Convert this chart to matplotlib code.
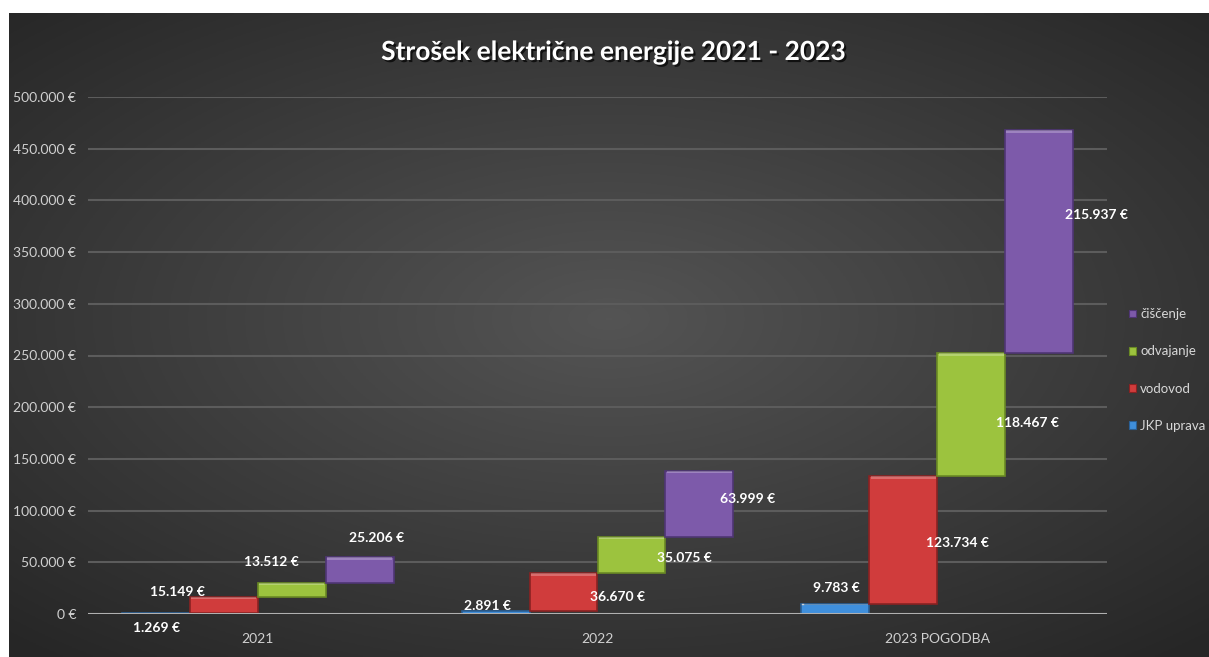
import numpy as np
import matplotlib
matplotlib.use('Agg')
import matplotlib.pyplot as plt
import matplotlib.patheffects as pe
from matplotlib.ticker import FuncFormatter

# data
years = ['2021', '2022', '2023 POGODBA']
series = ['JKP uprava', 'vodovod', 'odvajanje', 'čiščenje']
jkp_uprava = [1269, 2891, 9783]
vodovod = [15149, 36670, 123734]
odvajanje = [13512, 35075, 118467]
ciscenje = [25206, 63999, 215937]
y_ticks = [0, 50000, 100000, 150000, 200000, 250000, 300000, 350000, 400000, 450000, 500000]

colors = ['#3f8fdc', '#d03c3c', '#9cc33e', '#7d5aaa']
edge_colors = ['#2a5f95', '#8a2222', '#6a8a24', '#4f3575']
# label offsets (pixels) from bar centre / bar middle
label_offsets = [
    [(1, -15), (-8, 7), (1, 21)],
    [(-46, 13), (54, -5), (54, -3)],
    [(-20, 28), (53, -3), (56, -8)],
    [(17, 32), (48, 5), (57, 27)],
]

plt.rcParams['font.family'] = ['Lato', 'DejaVu Sans']

W, H = 1209, 657
fig = plt.figure(figsize=(W / 100, H / 100), dpi=100, facecolor='white')

# dark background with radial gradient
bg = fig.add_axes([9 / W, 0, 1 - 9 / W, 1 - 13 / H])
bg.axis('off')
gx, gy = np.meshgrid(np.linspace(-1, 1, 400), np.linspace(-1, 1, 220))
r = np.sqrt((gx * 0.95) ** 2 + ((gy + 0.05) * 1.0) ** 2)
shade = np.clip(0.33 - 0.13 * r, 0.15, 0.33)
bg.imshow(np.dstack([shade, shade, shade]), aspect='auto', extent=[0, 1, 0, 1])

ax = fig.add_axes([88 / W, (H - 614) / H, (1107 - 88) / W, (614 - 97) / H])
ax.set_facecolor('none')

vals = np.array([jkp_uprava, vodovod, odvajanje, ciscenje], dtype=float)
bottoms = np.vstack([np.zeros(3), np.cumsum(vals, axis=0)[:-1]])
x = np.arange(len(years))
width = 0.2
offsets = [-0.3, -0.1, 0.1, 0.3]

for i in range(len(series)):
    xs = x + offsets[i]
    ax.bar(xs, vals[i], width, bottom=bottoms[i], color=colors[i],
           edgecolor=edge_colors[i], linewidth=1.2, label=series[i], zorder=3)
    # bevel highlight at bar top
    hl = np.minimum(vals[i] * 0.12, 2500)
    ax.bar(xs, hl, width * 0.96, bottom=bottoms[i] + vals[i] - hl,
           color='white', alpha=0.25, linewidth=0, zorder=4)
    for j in range(len(years)):
        mid = bottoms[i][j] + vals[i][j] / 2
        txt = '{:,.0f} €'.format(vals[i][j]).replace(',', '.')
        ax.annotate(txt, (xs[j], mid), xytext=label_offsets[i][j],
                    textcoords='offset pixels', ha='center', va='center',
                    color='white', fontsize=10, fontweight='bold', zorder=6)

# leader line for the small 2023 label
j = 2
bx = x[j] + offsets[0] - width / 2
top = vals[0][j]
p0 = ax.transData.transform((bx, top))
pts = np.array([p0 + [2, -2], p0 + [2, 18], p0 + [6, 18]])
pts = ax.transData.inverted().transform(pts)
ax.plot(pts[:, 0], pts[:, 1], color='#d0d0d0', lw=1, zorder=6, clip_on=False)

ax.set_xlim(-0.5, 2.5)
ax.set_ylim(0, 500000)
ax.set_yticks(y_ticks)
ax.yaxis.set_major_formatter(FuncFormatter(
    lambda v, p: '{:,.0f} €'.format(v).replace(',', '.')))
ax.grid(axis='y', color='#5c5c5c', linewidth=1.5, zorder=0)
ax.axhline(0, color='#b0b0b0', linewidth=2.2, zorder=5)
ax.set_xticks(x)
ax.set_xticklabels(years)
for s in ax.spines.values():
    s.set_visible(False)
ax.tick_params(axis='both', length=0, colors='#d0d0d0', labelsize=10)
ax.tick_params(axis='y', pad=8.5)
ax.tick_params(axis='x', pad=14)

handles = [plt.Rectangle((0, 0), 1, 1, facecolor=c, edgecolor=e, lw=0.8)
           for c, e in zip(colors[::-1], edge_colors[::-1])]
leg = fig.legend(handles, series[::-1], loc='center left',
                 bbox_to_anchor=(1129 / W, 1 - 370 / H),
                 frameon=False, labelcolor='#d8d8d8', fontsize=9.5,
                 handlelength=0.5, handleheight=0.5, handletextpad=0.35,
                 labelspacing=1.9, borderpad=0, borderaxespad=0)

fig.text(613 / W, 1 - 52 / H, 'Strošek električne energije 2021 - 2023',
         ha='center', va='center', color='white', fontsize=19, fontweight='bold',
         path_effects=[pe.withSimplePatchShadow(offset=(1.5, -1.5),
                                                shadow_rgbFace='black', alpha=0.7)])

fig.savefig('out.png', dpi=100, facecolor='white')
